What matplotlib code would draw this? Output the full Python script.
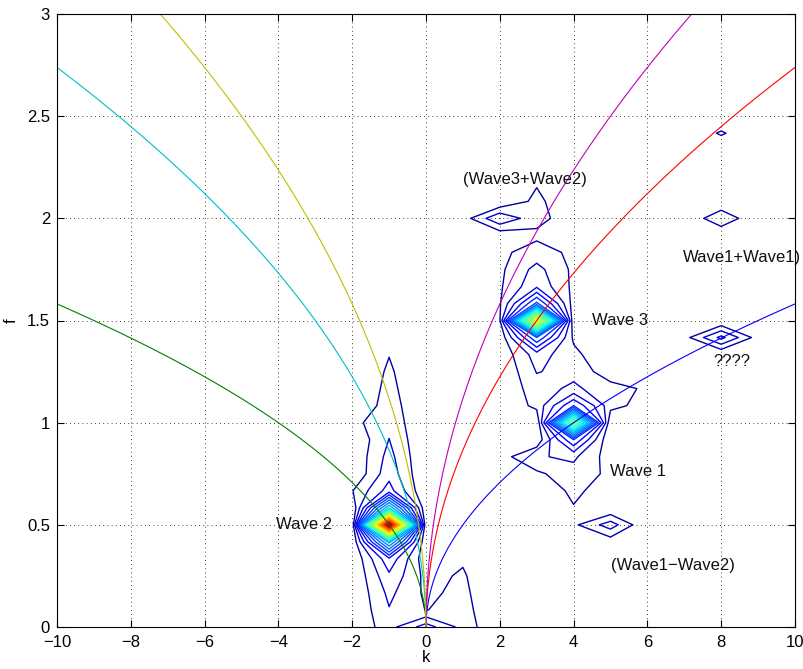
import numpy as np
import matplotlib
matplotlib.use("Agg")
import matplotlib.pyplot as plt

plt.rcParams['font.family'] = ['Liberation Sans', 'DejaVu Sans']

# ---- spectrum grid: k columns (integers), f rows (step 1/12) ----
k_values = list(range(-10, 11))
f_step_count = 36          # rows 0..36 -> f = 0..3
f_max = 3.0

# amplitude columns (in contour-level units), one entry per f row
col_km2 = [0, 0, 0, 0, 0, 0, 0, 0, 0.94, 0, 0.1, 0.08, 0.69, 0, 0, 0, 0, 0, 0, 0,
           0, 0, 0, 0, 0, 0, 0, 0, 0, 0, 0, 0, 0, 0, 0, 0, 0]
col_km1 = [1.62, 1.94, 2.25, 2.8, 3.75, 9.4, 31.25, 10, 3.45, 2.65, 2.35, 2.02, 1.72, 1.5,
           1.31, 1.16, 0.97, 0.78, 0.56, 0.4, 0.3, 0.2, 0, 0, 0, 0, 0, 0, 0, 0, 0, 0, 0, 0, 0, 0, 0]
col_k0 = [3.5, 0.97, 0.8, 0.7, 0.3, 0, 0, 0, 0, 0, 0, 0, 0, 0, 0, 0, 0, 0, 0, 0,
          0, 0, 0, 0, 0, 0, 0, 0, 0, 0, 0, 0, 0, 0, 0, 0, 0]
col_k1 = [1.63, 1.4, 1.25, 1.12, 0.88, 0.3, 0, 0, 0, 0, 0, 0, 0, 0, 0, 0, 0, 0, 0, 0,
          0, 0, 0, 0, 0.5, 0, 0, 0, 0, 0, 0, 0, 0, 0, 0, 0, 0]
col_k2 = [0, 0, 0, 0, 0, 0, 0, 0, 0, 0, 0.58, 0, 0, 0, 0, 0, 0.19, 0.2, 0.9, 0.88,
          0.85, 0.78, 0.8, 0.3, 2.9, 0, 0, 0, 0, 0, 0, 0, 0, 0, 0, 0, 0]
col_k3 = [0, 0, 0, 0, 0, 0, 0, 0, 0, 0.8, 1.9, 0.3, 0, 1.3, 1.6, 2.05, 2.5, 6.0, 20.3, 6.25,
          2.81, 2.34, 1.41, 0.8, 1.3, 1.3, 0.925, 0, 0, 0, 0, 0, 0, 0, 0, 0, 0]
col_k4 = [0, 0, 0, 0, 0, 0, 0.78, 0.925, 1.3, 1.6, 2.2, 5.0, 15.6, 5.0, 2.2, 1.7, 1.3, 0.8, 0, 0.5,
          0.75, 0.78, 0.8, 0, 0.5, 0, 0, 0, 0, 0, 0, 0, 0, 0, 0, 0, 0]
col_k5 = [0, 0, 0, 0, 0, 0.4, 2.53, 0, 0.3, 0.77, 0.49, 0, 0, 1.38, 1.4, 0.4, 0, 0, 0, 0,
          0, 0, 0, 0, 0, 0, 0, 0, 0, 0, 0, 0, 0, 0, 0, 0, 0]
col_k6 = [0, 0, 0, 0, 0, 0, 0, 0, 0, 0, 0, 0, 0, 0.52, 0.84, 0, 0, 0, 0, 0,
          0, 0, 0, 0, 0, 0, 0, 0, 0, 0, 0, 0, 0, 0, 0, 0, 0]
col_k7 = [0, 0, 0, 0, 0, 0, 0, 0, 0, 0, 0, 0, 0, 0, 0, 0, 0, 0.6, 0, 0,
          0, 0, 0, 0, 0, 0, 0, 0, 0, 0, 0, 0, 0, 0, 0, 0, 0]
col_k8 = [0, 0, 0, 0, 0, 0, 0, 0, 0, 0, 0, 0, 0, 0, 0, 0, 0, 3.3, 0, 0,
          0, 0, 0, 0, 1.9, 0, 0, 0, 0, 1.15, 0, 0, 0, 0, 0, 0, 0]
col_k9 = [0, 0, 0, 0, 0, 0, 0, 0, 0, 0, 0, 0, 0, 0, 0, 0, 0, 0.5, 0, 0,
          0, 0, 0, 0, 0, 0, 0, 0, 0, 0, 0, 0, 0, 0, 0, 0, 0]
spectrum_columns = {-2: col_km2, -1: col_km1, 0: col_k0, 1: col_k1, 2: col_k2, 3: col_k3,
                    4: col_k4, 5: col_k5, 6: col_k6, 7: col_k7, 8: col_k8, 9: col_k9}
contour_levels = list(range(1, 31))

# ---- dispersion curves f = a*sqrt(|k|) ----
curve_coeffs = [0.5, 0.5, 0.866, 0.866, 1.118, 1.118]
curve_sides = [1, -1, 1, -1, 1, -1]
curve_colors = [(0, 0, 1), (0, 0.5, 0), (1, 0, 0), (0, 0.75, 0.75), (0.75, 0, 0.75), (0.75, 0.75, 0)]

# ---- annotations ----
label_texts = ["Wave 2", "Wave 3", "Wave 1", "(Wave3+Wave2)", "Wave1+Wave1)", "????", "(Wave1\u2212Wave2)"]
label_k = [-4.07, 4.5, 5.0, 1.0, 6.96, 7.78, 5.0]
label_f = [0.5, 1.5, 0.76, 2.19, 1.81, 1.30, 0.30]

# ---- build grid ----
f_values = np.linspace(0, f_max, f_step_count + 1)
K, F = np.meshgrid(np.array(k_values, dtype=float), f_values)
Z = np.zeros_like(K)
for kk, col in spectrum_columns.items():
    Z[:, k_values.index(kk)] = col

fig = plt.figure(figsize=(8.04, 6.69), dpi=100)
ax = fig.add_axes([57 / 804, 42 / 669, (795 - 57) / 804, (627 - 14) / 669])

norm = matplotlib.colors.Normalize(vmin=0, vmax=Z.max())
ax.contour(K, F, Z, levels=contour_levels, cmap='jet', norm=norm, linewidths=1.0)

for a, s, c in zip(curve_coeffs, curve_sides, curve_colors):
    kk = np.linspace(0, 10, 800) * s
    ax.plot(kk, a * np.sqrt(np.abs(kk)), color=c, lw=0.8)

for t, x, y in zip(label_texts, label_k, label_f):
    ax.text(x, y, t, fontsize=12, ha='left', va='center', color='#111111')

ax.set_xlim(-10, 10)
ax.set_ylim(0, 3)
ax.set_xticks(range(-10, 11, 2))
ax.set_yticks(np.arange(0, 3.01, 0.5))
ax.set_yticklabels(["0", "0.5", "1", "1.5", "2", "2.5", "3"])
ax.tick_params(direction='in', top=True, right=True, length=5, width=0.8, labelsize=12)
ax.tick_params(axis='x', pad=6)
ax.tick_params(axis='y', pad=5)
ax.grid(True, color='black', linestyle=(0, (1, 4)), linewidth=0.6)
for sp in ax.spines.values():
    sp.set_linewidth(0.8)
ax.set_xlabel("k", fontsize=12, labelpad=0)
ax.set_ylabel("f", fontsize=12, labelpad=6)

fig.savefig("out.png", dpi=100)
